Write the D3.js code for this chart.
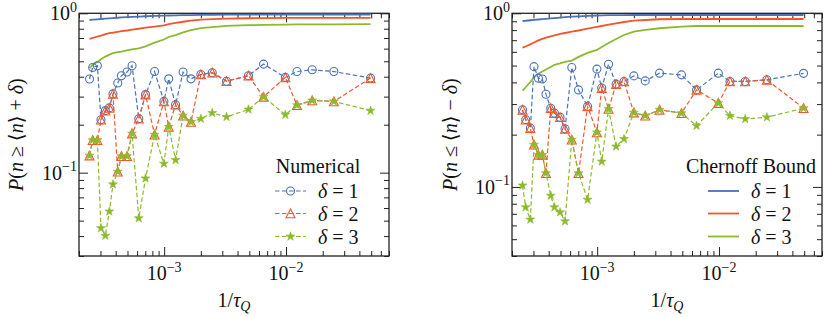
<!DOCTYPE html>
<html>
<head>
<meta charset="utf-8">
<script src="https://cdn.jsdelivr.net/npm/d3@7"></script>
<style>
body { margin: 0; background: #fff; }
svg text { font-family: "Liberation Serif", "DejaVu Serif", serif; fill: #111; }
</style>
</head>
<body>
<div id="chart"></div>
<script>
// x values: 1/tau_Q (shared by both panels)
const invTauQ = [2.44e-4, 2.59e-4, 2.83e-4, 3.03e-4, 3.29e-4, 3.55e-4, 3.80e-4, 4.16e-4, 4.46e-4, 4.96e-4,
    5.45e-4, 6.19e-4, 7.03e-4, 8.34e-4, 9.95e-4, 1.09e-3, 1.24e-3, 1.43e-3, 1.66e-3, 2.00e-3,
    2.48e-3, 3.25e-3, 4.92e-3, 6.54e-3, 9.87e-3, 1.23e-2, 1.64e-2, 2.47e-2, 4.94e-2];

// Left panel: P(n >= <n> + delta), numerical
const upperNum1 = [0.387, 0.457, 0.469, 0.215, 0.245, 0.255, 0.312, 0.365, 0.406, 0.428,
    0.469, 0.218, 0.309, 0.431, 0.280, 0.388, 0.267, 0.428, 0.388, 0.413,
    0.424, 0.375, 0.406, 0.480, 0.396, 0.431, 0.442, 0.431, 0.392];
const upperNum2 = [0.128, 0.160, 0.160, 0.215, 0.245, 0.255, 0.312, 0.1015, 0.127, 0.127,
    0.176, 0.218, 0.309, 0.173, 0.280, 0.194, 0.267, 0.228, 0.208, 0.413,
    0.424, 0.375, 0.406, 0.299, 0.396, 0.265, 0.284, 0.280, 0.392];
const upperNum3 = [0.128, 0.160, 0.160, 0.0449, 0.0402, 0.0571, 0.0845, 0.1015, 0.127, 0.127,
    0.176, 0.0518, 0.0921, 0.173, 0.114, 0.194, 0.120, 0.228, 0.208, 0.218,
    0.237, 0.224, 0.249, 0.299, 0.231, 0.265, 0.284, 0.280, 0.245];
// Left panel: Chernoff bound
const upperChern1 = [0.908, 0.912, 0.917, 0.921, 0.926, 0.930, 0.934, 0.938, 0.942, 0.946,
    0.950, 0.954, 0.958, 0.963, 0.967, 0.969, 0.971, 0.973, 0.975, 0.977,
    0.979, 0.980, 0.981, 0.982, 0.983, 0.983, 0.983, 0.983, 0.983];
const upperChern2 = [0.691, 0.700, 0.715, 0.725, 0.740, 0.750, 0.757, 0.765, 0.772, 0.780,
    0.790, 0.800, 0.812, 0.825, 0.840, 0.855, 0.870, 0.885, 0.900, 0.912,
    0.920, 0.926, 0.931, 0.933, 0.935, 0.936, 0.937, 0.937, 0.937];
const upperChern3 = [0.453, 0.475, 0.495, 0.515, 0.535, 0.550, 0.562, 0.570, 0.575, 0.585,
    0.594, 0.603, 0.620, 0.655, 0.685, 0.710, 0.730, 0.760, 0.785, 0.806,
    0.820, 0.833, 0.842, 0.846, 0.850, 0.851, 0.852, 0.853, 0.854];

// Right panel: P(n <= <n> - delta), numerical
const lowerNum1 = [0.278, 0.244, 0.218, 0.493, 0.423, 0.418, 0.342, 0.284, 0.266, 0.252,
    0.216, 0.487, 0.362, 0.291, 0.477, 0.371, 0.509, 0.391, 0.405, 0.436,
    0.408, 0.452, 0.442, 0.362, 0.452, 0.405, 0.405, 0.414, 0.451];
const lowerNum2 = [0.278, 0.244, 0.218, 0.175, 0.153, 0.153, 0.120, 0.284, 0.266, 0.252,
    0.216, 0.187, 0.120, 0.291, 0.206, 0.371, 0.281, 0.391, 0.405, 0.268,
    0.257, 0.278, 0.266, 0.362, 0.304, 0.405, 0.405, 0.414, 0.284];
const lowerNum3 = [0.102, 0.0763, 0.0649, 0.175, 0.153, 0.153, 0.120, 0.0891, 0.0763, 0.0715,
    0.0634, 0.187, 0.120, 0.0845, 0.206, 0.140, 0.281, 0.171, 0.189, 0.268,
    0.257, 0.278, 0.266, 0.225, 0.304, 0.257, 0.246, 0.252, 0.284];
// Right panel: Chernoff bound
const lowerChern1 = [0.903, 0.906, 0.912, 0.916, 0.921, 0.926, 0.930, 0.935, 0.939, 0.945,
    0.950, 0.956, 0.960, 0.966, 0.971, 0.973, 0.975, 0.976, 0.977, 0.978,
    0.978, 0.978, 0.978, 0.978, 0.978, 0.978, 0.978, 0.978, 0.978];
const lowerChern2 = [0.634, 0.644, 0.662, 0.679, 0.698, 0.712, 0.724, 0.736, 0.746, 0.760,
    0.770, 0.784, 0.796, 0.816, 0.834, 0.845, 0.860, 0.876, 0.891, 0.907,
    0.915, 0.924, 0.927, 0.927, 0.927, 0.927, 0.927, 0.927, 0.927];
const lowerChern3 = [0.359, 0.375, 0.403, 0.428, 0.448, 0.462, 0.475, 0.491, 0.505, 0.515,
    0.525, 0.534, 0.561, 0.591, 0.615, 0.640, 0.675, 0.711, 0.750, 0.784,
    0.802, 0.820, 0.839, 0.845, 0.845, 0.845, 0.845, 0.845, 0.845];

const deltaLabels = ['1', '2', '3'];

// Layout
const W = 831, H = 317;
const plotTop = 13.3, plotBottom = 256, plotW = 310;
const colors = ['#4a72b8', '#f0582b', '#8bba2e'];
const fs = 20;

const svg = d3.select('#chart').append('svg')
    .attr('width', W).attr('height', H);

// marker shapes (sizes roughly like matplotlib markersize 8px)
const circlePath = d3.symbol().type(d3.symbolCircle).size(Math.PI * 16)();
const triPath = 'M0,-4.5L-4.5,4.3L4.5,4.3Z';
const starPath = (function() {
    const pts = [];
    for (let i = 0; i < 10; i++) {
        const r = i % 2 === 0 ? 4.7 : 1.8;
        const a = -Math.PI / 2 + i * Math.PI / 5;
        pts.push([r * Math.cos(a), r * Math.sin(a)]);
    }
    return 'M' + pts.map(p => p.join(',')).join('L') + 'Z';
})();
const markerPaths = [circlePath, triPath, starPath];

function logTicks(lo, hi) {
    const major = [], minor = [];
    for (let e = -5; e <= 0; e++) {
        for (let m = 1; m <= 9; m++) {
            const v = m * Math.pow(10, e);
            if (v < lo * 0.999 || v > hi * 1.001) continue;
            (m === 1 ? major : minor).push(v);
        }
    }
    return {major, minor};
}

function powLabel(sel, exp) {
    sel.append('tspan').text('10');
    sel.append('tspan').attr('dy', -8.5).attr('font-size', 14).text(exp);
}

function drawMarker(g, pathD, i, cx, cy) {
    const m = g.append('path')
        .attr('d', pathD)
        .attr('transform', `translate(${cx},${cy})`)
        .attr('stroke', colors[i])
        .attr('stroke-width', 1.1);
    if (i === 2) m.attr('fill', colors[i]).attr('stroke-width', 0.6);
    else m.attr('fill', 'none');
}

function drawPanel(p) {
    const x = d3.scaleLog().domain([2e-4, 7e-2]).range([p.left, p.left + plotW]);
    const y = d3.scaleLog().domain([p.yMin, 1]).range([plotBottom, plotTop]);
    const g = svg.append('g');

    const xt = logTicks(2e-4, 7e-2);
    const yt = logTicks(p.yMin, 1);

    const axes = [
        [d3.axisBottom(x), `translate(0,${plotBottom})`, xt],
        [d3.axisTop(x), `translate(0,${plotTop})`, xt],
        [d3.axisLeft(y), `translate(${p.left},0)`, yt],
        [d3.axisRight(y), `translate(${p.left + plotW},0)`, yt]
    ];
    axes.forEach(([ax, tr, t]) => {
        [[t.major, -9], [t.minor, -5]].forEach(([vals, len]) => {
            const a = g.append('g')
                .attr('transform', tr)
                .call(ax.tickValues(vals).tickSizeInner(len).tickSizeOuter(0).tickFormat(''));
            a.select('.domain').remove();
            a.selectAll('line').attr('stroke', '#222').attr('stroke-width', 1);
        });
    });

    // frame
    g.append('rect')
        .attr('x', p.left).attr('y', plotTop)
        .attr('width', plotW).attr('height', plotBottom - plotTop)
        .attr('fill', 'none').attr('stroke', '#222').attr('stroke-width', 1.3);

    // tick labels
    [[1e-3, '\u22123'], [1e-2, '\u22122']].forEach(([v, e]) => {
        g.append('text').attr('x', x(v)).attr('y', 280)
            .attr('text-anchor', 'middle').attr('font-size', fs)
            .call(powLabel, e);
    });
    [[1, '0'], [0.1, '\u22121']].forEach(([v, e]) => {
        g.append('text').attr('x', p.left - 2).attr('y', y(v) + 7)
            .attr('text-anchor', 'end').attr('font-size', fs)
            .call(powLabel, e);
    });

    // axis titles
    const xl = g.append('text').attr('x', p.left + plotW / 2).attr('y', 307)
        .attr('text-anchor', 'middle').attr('font-size', fs);
    xl.append('tspan').text('1/');
    xl.append('tspan').attr('font-style', 'italic').text('\u03c4');
    xl.append('tspan').attr('font-style', 'italic').attr('font-size', 14).attr('dy', 4).text('Q');

    const yl = g.append('text')
        .attr('transform', `translate(${p.yTitleX},${(plotTop + plotBottom) / 2}) rotate(-90)`)
        .attr('text-anchor', 'middle').attr('font-size', fs);
    yl.append('tspan').attr('font-style', 'italic').text('P');
    yl.append('tspan').text('(');
    yl.append('tspan').attr('font-style', 'italic').text('n');
    yl.append('tspan').text(p.rel === 'ge' ? ' \u2265 \u27e8' : ' \u2264 \u27e8');
    yl.append('tspan').attr('font-style', 'italic').text('n');
    yl.append('tspan').text(p.rel === 'ge' ? '\u27e9 + ' : '\u27e9 \u2212 ');
    yl.append('tspan').attr('font-style', 'italic').text('\u03b4');
    yl.append('tspan').text(')');

    // Chernoff bound lines
    const line = d3.line().x(d => x(d[0])).y(d => y(d[1]));
    p.chern.forEach((vals, i) => {
        g.append('path')
            .datum(invTauQ.map((v, k) => [v, vals[k]]))
            .attr('d', line)
            .attr('fill', 'none')
            .attr('stroke', colors[i])
            .attr('stroke-width', 1.8);
    });

    // numerical dashed lines + markers
    p.num.forEach((vals, i) => {
        const pts = invTauQ.map((v, k) => [v, vals[k]]);
        g.append('path')
            .datum(pts)
            .attr('d', line)
            .attr('fill', 'none')
            .attr('stroke', colors[i])
            .attr('stroke-width', 1.2)
            .attr('stroke-dasharray', '4.5,2.5');
        const mg = g.append('g');
        pts.forEach(d => drawMarker(mg, markerPaths[i], i, x(d[0]), y(d[1])));
    });

    // legend
    const lg = g.append('g');
    const lx = p.left + plotW - 114;
    lg.append('text').attr('x', lx + 43).attr('y', 173)
        .attr('text-anchor', 'middle').attr('font-size', fs).text(p.legendTitle);
    [191, 213.5, 236.5].forEach((ly, i) => {
        lg.append('line')
            .attr('x1', lx).attr('x2', lx + 31)
            .attr('y1', ly).attr('y2', ly)
            .attr('stroke', colors[i])
            .attr('stroke-width', p.legendDashed ? 1.2 : 1.8)
            .attr('stroke-dasharray', p.legendDashed ? '4.5,2.5' : null);
        if (p.legendDashed) drawMarker(lg, markerPaths[i], i, lx + 15.5, ly);
        const t = lg.append('text').attr('x', lx + 43).attr('y', ly + 7).attr('font-size', fs);
        t.append('tspan').attr('font-style', 'italic').text('\u03b4');
        t.append('tspan').text(' = ' + deltaLabels[i]);
    });
}

drawPanel({
    left: 79, yMin: 0.03, rel: 'ge', yTitleX: 23,
    num: [upperNum1, upperNum2, upperNum3],
    chern: [upperChern1, upperChern2, upperChern3],
    legendTitle: 'Numerical', legendDashed: true
});
drawPanel({
    left: 512, yMin: 0.04, rel: 'le', yTitleX: 457,
    num: [lowerNum1, lowerNum2, lowerNum3],
    chern: [lowerChern1, lowerChern2, lowerChern3],
    legendTitle: 'Chernoff Bound', legendDashed: false
});
</script>
</body>
</html>
